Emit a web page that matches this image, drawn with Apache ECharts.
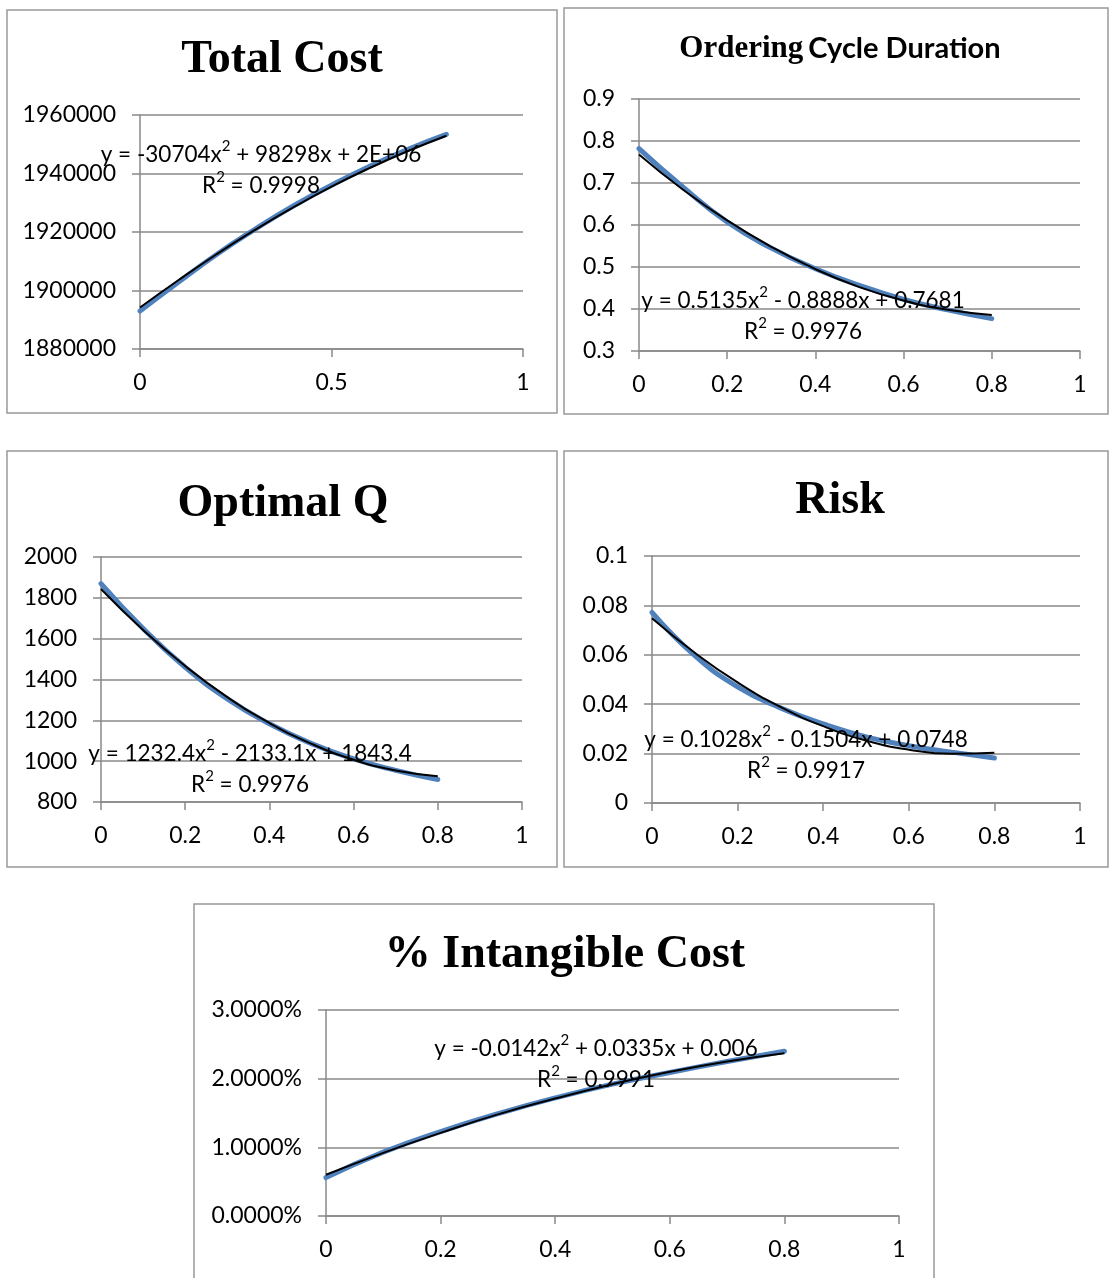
<!DOCTYPE html>
<html><head><meta charset="utf-8">
<script src="https://cdn.jsdelivr.net/npm/echarts@6/dist/echarts.min.js"></script>
<style>html,body{margin:0;padding:0;background:#fff}#c{width:1110px;height:1278px}</style>
</head><body><div id="c"></div>
<script>
// ---- data ----
const xValues = [0, 0.1, 0.2, 0.3, 0.4, 0.5, 0.6, 0.7, 0.8];

const totalCost      = [1893000, 1902800, 1912300, 1920900, 1928900, 1936000, 1942500, 1948300, 1953400];
const totalCostTrend = [1894200, 1903500, 1912400, 1920700, 1928400, 1935500, 1941900, 1947700, 1952900];
const totalCostEq = ['y = -30704x{s|2} + 98298x + 2E+06', 'R{s|2} = 0.9998'];

const cycleDur      = [0.782, 0.690, 0.607, 0.545, 0.496, 0.456, 0.423, 0.398, 0.377];
const cycleDurTrend = [0.768, 0.684, 0.611, 0.548, 0.495, 0.452, 0.420, 0.398, 0.386];
const cycleDurEq = ['y = 0.5135x{s|2} - 0.8888x + 0.7681', 'R{s|2} = 0.9976'];

const optimalQ      = [1870, 1650, 1460, 1305, 1183, 1086, 1011, 955, 910];
const optimalQTrend = [1843, 1642, 1466, 1314, 1187, 1085, 1007, 954, 926];
const optimalQEq = ['y = 1232.4x{s|2} - 2133.1x + 1843.4', 'R{s|2} = 0.9976'];

const risk      = [0.0772, 0.0597, 0.0470, 0.0385, 0.0320, 0.0268, 0.0232, 0.0206, 0.0182];
const riskTrend = [0.0748, 0.0608, 0.0488, 0.0389, 0.0311, 0.0253, 0.0216, 0.0199, 0.0203];
const riskEq = ['y = 0.1028x{s|2} - 0.1504x + 0.0748', 'R{s|2} = 0.9917'];

const intangible      = [0.0056, 0.0093, 0.0123, 0.0149, 0.0172, 0.0192, 0.0209, 0.0225, 0.0240];
const intangibleTrend = [0.0060, 0.0092, 0.0121, 0.0148, 0.0171, 0.0192, 0.0210, 0.0225, 0.0237];
const intangibleEq = ['y = -0.0142x{s|2} + 0.0335x + 0.006', 'R{s|2} = 0.9991'];

const titles = ['Total Cost', 'Ordering Cycle Duration', 'Optimal Q', 'Risk', '% Intangible Cost'];

// ---- styling / layout ----
const SANS = 'Lato, "Open Sans", sans-serif';
const SERIF = '"Liberation Serif", "Times New Roman", serif';
const GRID_C = '#898989';
const BLUE = '#4F81BD';

const panels = [
  {x: 7, y: 10, w: 550, h: 403},
  {x: 564, y: 8, w: 544, h: 406},
  {x: 7, y: 451, w: 550, h: 416},
  {x: 564, y: 451, w: 544, h: 416},
  {x: 194, y: 904, w: 740, h: 400}
];
const grids = [
  {left: 140, top: 115, width: 383, height: 234},
  {left: 639, top: 99, width: 441, height: 252},
  {left: 101, top: 557, width: 421, height: 245},
  {left: 652, top: 556, width: 428, height: 247},
  {left: 326, top: 1010, width: 573, height: 206}
];
const yAxes = [
  {min: 1880000, max: 1960000, interval: 20000, fmt: v => String(Math.round(v))},
  {min: 0.3, max: 0.9, interval: 0.1, fmt: v => String(+v.toFixed(4))},
  {min: 800, max: 2000, interval: 200, fmt: v => String(Math.round(v))},
  {min: 0, max: 0.1, interval: 0.02, fmt: v => String(+v.toFixed(4))},
  {min: 0, max: 0.03, interval: 0.01, fmt: v => (v * 100).toFixed(4) + '%'}
];
const xIntervals = [0.5, 0.2, 0.2, 0.2, 0.2];
const seriesSets = [
  [totalCost, totalCostTrend, totalCostEq],
  [cycleDur, cycleDurTrend, cycleDurEq],
  [optimalQ, optimalQTrend, optimalQEq],
  [risk, riskTrend, riskEq],
  [intangible, intangibleTrend, intangibleEq]
];
const eqPos = [
  {x: 261, y: 155}, {x: 803, y: 301}, {x: 250, y: 754}, {x: 806, y: 740}, {x: 596, y: 1049}
];
const titlePos = [
  {x: 282, y: 60}, {x: 840, y: 49}, {x: 283, y: 504}, {x: 840, y: 501}, {x: 565, y: 955}
];

const pairs = (ys) => xValues.map((x, i) => [x, ys[i]]);
const EQ_FS = 22.5;
const eqRich = {
  s: {fontFamily: SANS, fontSize: 15, lineHeight: 14, padding: [0, 0, 12, 0], verticalAlign: 'bottom', color: '#000'}
};

const option = {
  backgroundColor: '#fff',
  animation: false,
  grid: grids.map(g => Object.assign({containLabel: false}, g)),
  xAxis: grids.map((g, i) => ({
    type: 'value', gridIndex: i, min: 0, max: 1, interval: xIntervals[i],
    axisLine: {show: true, onZero: false, lineStyle: {color: GRID_C, width: 1.5}},
    axisTick: {show: true, length: 8, lineStyle: {color: GRID_C, width: 1.5}},
    splitLine: {show: false},
    axisLabel: {color: '#000', fontFamily: SANS, fontSize: 23, margin: 22,
      formatter: v => String(+v.toFixed(4))}
  })),
  yAxis: yAxes.map((a, i) => ({
    type: 'value', gridIndex: i, min: a.min, max: a.max, interval: a.interval,
    axisLine: {show: true, lineStyle: {color: GRID_C, width: 1.5}},
    axisTick: {show: true, length: 8, lineStyle: {color: GRID_C, width: 1.5}},
    splitLine: {show: true, lineStyle: {color: GRID_C, width: 1.5}},
    axisLabel: {color: '#000', fontFamily: SANS, fontSize: 23, margin: 24, formatter: a.fmt}
  })),
  title: titles.map((t, i) => {
    if (i === 1) {
      return {
        text: '{a|Ordering} {b|Cycle Duration}', left: titlePos[i].x, top: titlePos[i].y - 15.5,
        textAlign: 'center', padding: 0,
        textStyle: {rich: {
          a: {fontFamily: SERIF, fontWeight: 'bold', fontSize: 31, color: '#000'},
          b: {fontFamily: SANS, fontWeight: 'bold', fontSize: 29, color: '#000'}
        }}
      };
    }
    return {
      text: t, left: titlePos[i].x, top: titlePos[i].y - 23, textAlign: 'center', padding: 0,
      textStyle: {fontFamily: SERIF, fontWeight: 'bold', fontSize: 46, color: '#000'}
    };
  }),
  series: seriesSets.flatMap((s, i) => [
    {type: 'line', xAxisIndex: i, yAxisIndex: i, data: pairs(s[0]), smooth: true,
     showSymbol: false, symbol: 'none', z: 2,
     lineStyle: {color: BLUE, width: 5, cap: 'round'}},
    {type: 'line', xAxisIndex: i, yAxisIndex: i, data: pairs(s[1]), smooth: true,
     showSymbol: false, symbol: 'none', z: 3,
     lineStyle: {color: '#000', width: 2}}
  ]),
  graphic: [
    ...panels.map(p => ({type: 'rect', shape: {x: p.x, y: p.y, width: p.w, height: p.h},
      style: {fill: 'none', stroke: '#999', lineWidth: 1.5}, z: 0, silent: true})),
    ...seriesSets.flatMap((s, i) => [0, 1].map(k => ({
      type: 'text', x: eqPos[i].x, y: eqPos[i].y + 31 * k, z: 10,
      style: {text: s[2][k], fontFamily: SANS, fontSize: EQ_FS, lineHeight: 22, fill: '#000',
        align: 'center', verticalAlign: 'middle', rich: eqRich}
    })))
  ]
};

const chart = echarts.init(document.getElementById('c'), null, {renderer: 'canvas'});
chart.setOption(option);
</script>
</body></html>
